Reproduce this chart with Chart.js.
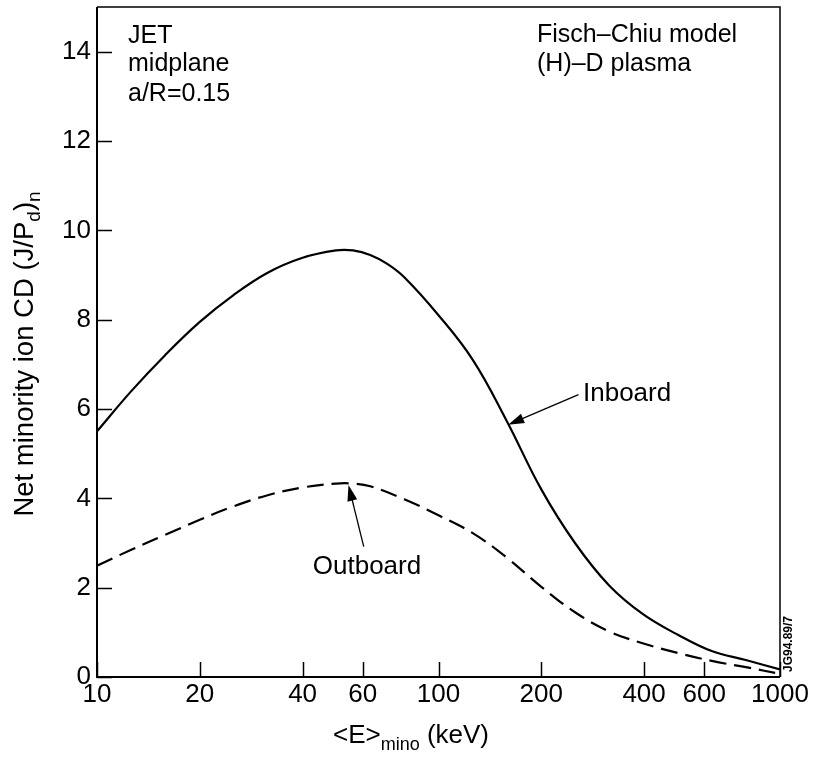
<!DOCTYPE html>
<html>
<head>
<meta charset="utf-8">
<script src="https://cdn.jsdelivr.net/npm/chart.js@4.4.1/dist/chart.umd.min.js"></script>
<style>
html,body{margin:0;padding:0;background:#fff;}
#wrap{width:814px;height:757px;}
</style>
</head>
<body>
<div id="wrap"><canvas id="c" width="814" height="757"></canvas></div>
<script>
// ---- data ----
const xTicks = [10, 20, 40, 60, 100, 200, 400, 600, 1000];
const yTicks = [0, 2, 4, 6, 8, 10, 12, 14];

const inboardE   = [10, 12.6, 15.8, 20, 25.1, 31.6, 39.8, 50.1, 56.2, 63.1, 70.8, 79.4, 100, 126, 158, 200, 251, 316, 398, 501, 631, 794, 1000];
const inboardCD  = [5.50, 6.40, 7.20, 7.95, 8.55, 9.05, 9.38, 9.55, 9.55, 9.45, 9.25, 8.95, 8.10, 7.10, 5.75, 4.20, 3.00, 2.05, 1.40, 0.95, 0.58, 0.38, 0.17];

const outboardE  = [10, 12.6, 15.8, 20, 25.1, 31.6, 39.8, 50.1, 56.2, 63.1, 79.4, 100, 126, 158, 200, 251, 316, 398, 501, 631, 794, 1000];
const outboardCD = [2.49, 2.85, 3.18, 3.52, 3.82, 4.07, 4.24, 4.33, 4.33, 4.27, 3.98, 3.62, 3.22, 2.68, 2.02, 1.45, 1.02, 0.75, 0.54, 0.36, 0.22, 0.07];

// annotation arrows (data coordinates): tail -> tip
const inboardArrow  = {from: [257, 6.32], to: [160, 5.65]};
const outboardArrow = {from: [60.4, 2.92], to: [54.5, 4.30]};

const FONT = '"Liberation Sans", Arial, Helvetica, sans-serif';

function pts(xs, ys){ return xs.map((v,i)=>({x:v, y:ys[i]})); }

const deco = {
  id: 'deco',
  afterDraw(chart){
    const {ctx, chartArea:a, scales:{x, y}} = chart;
    ctx.save();
    ctx.strokeStyle = '#000';
    ctx.fillStyle = '#000';
    // frame
    ctx.lineWidth = 2;
    ctx.beginPath();
    ctx.moveTo(a.left, a.top); ctx.lineTo(a.left, a.bottom); ctx.lineTo(a.right, a.bottom);
    ctx.stroke();
    ctx.lineWidth = 1.5;
    ctx.beginPath();
    ctx.moveTo(a.left, a.top); ctx.lineTo(a.right, a.top); ctx.lineTo(a.right, a.bottom);
    ctx.stroke();
    // inward tick marks
    ctx.lineWidth = 1.5;
    ctx.beginPath();
    xTicks.forEach(v => { const px = Math.round(x.getPixelForValue(v)) + 0.5; ctx.moveTo(px, a.bottom); ctx.lineTo(px, a.bottom - 15); });
    yTicks.forEach(v => { const py = Math.round(y.getPixelForValue(v)) + 0.5; ctx.moveTo(a.left, py); ctx.lineTo(a.left + 15, py); });
    ctx.stroke();

    // arrows
    function arrow(ar){
      const x1 = x.getPixelForValue(ar.from[0]), y1 = y.getPixelForValue(ar.from[1]);
      const x2 = x.getPixelForValue(ar.to[0]),   y2 = y.getPixelForValue(ar.to[1]);
      const ang = Math.atan2(y2 - y1, x2 - x1);
      const L = 16, W = 5;
      ctx.lineWidth = 1.3;
      ctx.beginPath(); ctx.moveTo(x1, y1); ctx.lineTo(x2 - L*0.8*Math.cos(ang), y2 - L*0.8*Math.sin(ang)); ctx.stroke();
      ctx.beginPath();
      ctx.moveTo(x2, y2);
      ctx.lineTo(x2 - L*Math.cos(ang) + W*Math.sin(ang), y2 - L*Math.sin(ang) - W*Math.cos(ang));
      ctx.lineTo(x2 - L*Math.cos(ang) - W*Math.sin(ang), y2 - L*Math.sin(ang) + W*Math.cos(ang));
      ctx.closePath(); ctx.fill();
    }
    arrow(inboardArrow);
    arrow(outboardArrow);

    // text annotations
    ctx.textBaseline = 'alphabetic';
    ctx.textAlign = 'left';
    ctx.font = '25px ' + FONT;
    ctx.fillText('JET', 128, 43);
    ctx.fillText('midplane', 128, 71);
    ctx.fillText('a/R=0.15', 128, 101);
    ctx.fillText('Fisch\u2013Chiu model', 537, 42);
    ctx.fillText('(H)\u2013D plasma', 537, 71);
    ctx.font = '26px ' + FONT;
    ctx.fillText('Inboard', 583, 401);
    ctx.textAlign = 'center';
    ctx.fillText('Outboard', 367, 574);

    // rich text with subscripts
    function rich(parts, cx, cy){
      let total = 0;
      parts.forEach(p => { ctx.font = p[1] + 'px ' + FONT; total += ctx.measureText(p[0]).width; });
      let cur = cx - total/2;
      ctx.textAlign = 'left';
      parts.forEach(p => { ctx.font = p[1] + 'px ' + FONT; ctx.fillText(p[0], cur, cy + p[2]); cur += ctx.measureText(p[0]).width; });
    }
    // x axis title
    rich([['<E>', 26, 0], ['mino', 18, 7], [' (keV)', 26, 0]], 411, 743);

    // y axis title (rotated)
    ctx.save();
    ctx.translate(33, (a.top + a.bottom)/2 + 12);
    ctx.rotate(-Math.PI/2);
    rich([['Net minority ion CD (J/P', 27.5, 0], ['d', 19, 7], [')', 27.5, 0], ['n', 19, 7]], 0, 0);
    ctx.restore();

    // figure id
    ctx.save();
    ctx.translate(792, 644);
    ctx.rotate(-Math.PI/2);
    ctx.font = 'bold 12px ' + FONT;
    ctx.textAlign = 'center';
    ctx.fillText('JG94.89/7', 0, 0);
    ctx.restore();

    ctx.restore();
  }
};

new Chart(document.getElementById('c'), {
  type: 'line',
  data: {
    datasets: [
      { label: 'Inboard', data: pts(inboardE, inboardCD), borderColor: '#000', borderWidth: 2.2,
        pointRadius: 0, tension: 0.4, fill: false },
      { label: 'Outboard', data: pts(outboardE, outboardCD), borderColor: '#000', borderWidth: 2.2,
        borderDash: [17, 8], pointRadius: 0, tension: 0.4, fill: false }
    ]
  },
  options: {
    responsive: false,
    devicePixelRatio: 1,
    animation: false,
    layout: { padding: { top: 7, right: 34, left: 0, bottom: 0 } },
    plugins: { legend: { display: false }, tooltip: { enabled: false } },
    scales: {
      x: {
        type: 'logarithmic', min: 10, max: 1000,
        grid: { display: false, drawTicks: false }, border: { display: false },
        afterBuildTicks: s => { s.ticks = xTicks.map(v => ({ value: v })); },
        afterFit: s => { s.height = 80; s.paddingLeft = 0; s.paddingRight = 0; },
        ticks: { color: '#000', font: { family: FONT, size: 26 }, padding: 2, maxRotation: 0, autoSkip: false,
                 callback: v => String(v) }
      },
      y: {
        type: 'linear', min: 0, max: 15,
        grid: { display: false, drawTicks: false }, border: { display: false },
        afterBuildTicks: s => { s.ticks = yTicks.map(v => ({ value: v })); },
        afterFit: s => { s.width = 97; s.paddingTop = 0; s.paddingBottom = 0; },
        ticks: { color: '#000', font: { family: FONT, size: 26 }, padding: 6, callback: v => String(v) }
      }
    }
  },
  plugins: [deco]
});
</script>
</body>
</html>
